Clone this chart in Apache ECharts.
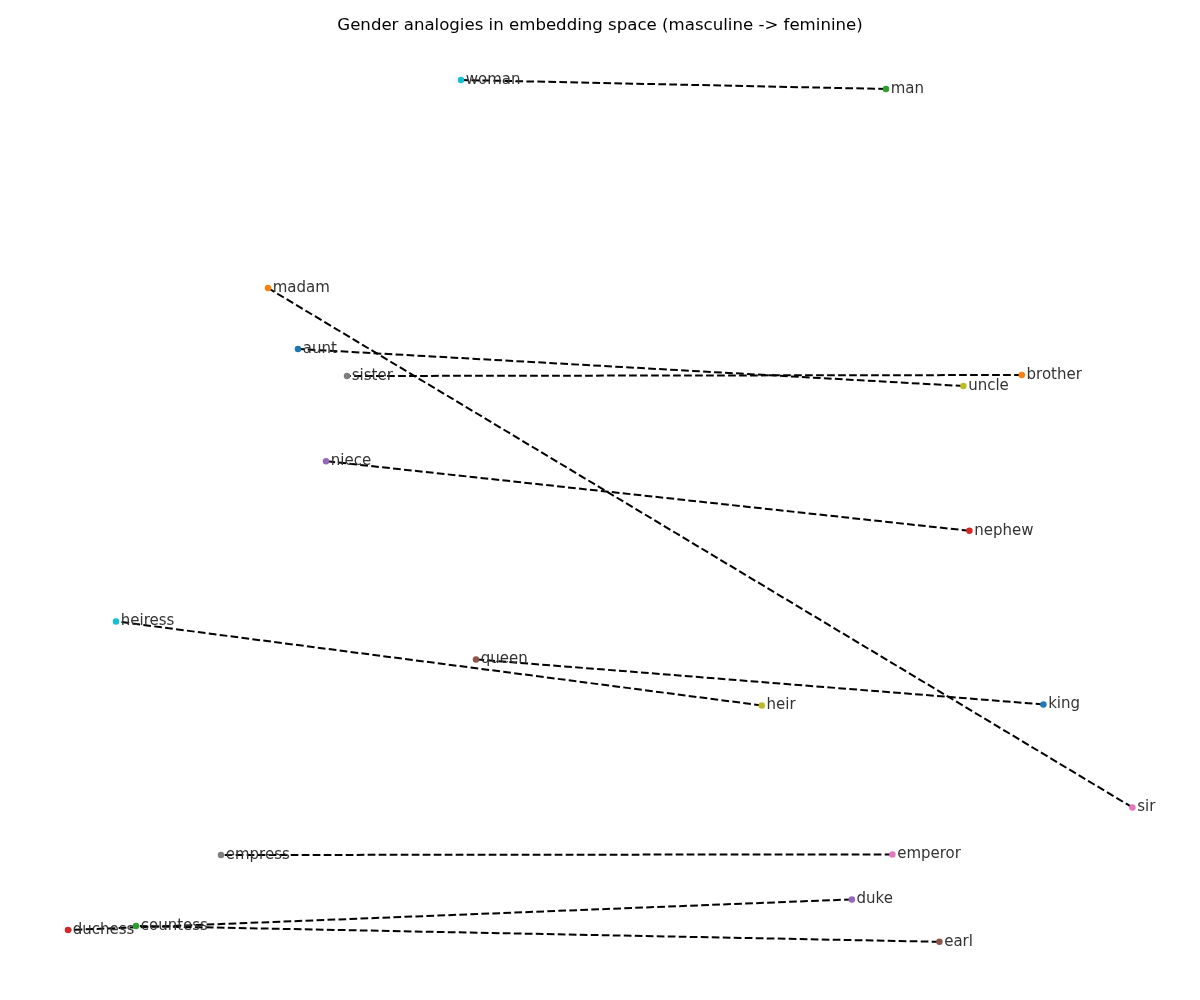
<!DOCTYPE html>
<html>
<head>
<meta charset="utf-8">
<script src="https://cdn.jsdelivr.net/npm/echarts@6/dist/echarts.min.js"></script>
<style>html,body{margin:0;padding:0;background:#fff}#c{width:1200px;height:1000px}</style>
</head>
<body>
<div id="c"></div>
<script>
// Words and their 2D embedding coordinates
const words = ['king','brother','man','nephew','niece','queen','emperor','sister','uncle','woman',
               'aunt','madam','countess','duchess','duke','earl','sir','empress','heir','heiress'];
const xs = [2.217, 2.109, 1.430, 1.847, -1.370, -0.620, 1.462, -1.265, 1.817, -0.695,
            -1.510, -1.660, -2.320, -2.660, 1.259, 1.697, 2.662, -1.895, 0.809, -2.420];
const ys = [-1.022, 0.625, 2.055, -0.154, 0.194, -0.797, -1.772, 0.620, 0.570, 2.100,
            0.755, 1.060, -2.130, -2.150, -1.997, -2.209, -1.537, -1.775, -1.027, -0.607];
// masculine -> feminine pairs
const pairs = [['king','queen'],['brother','sister'],['man','woman'],['nephew','niece'],
               ['duke','duchess'],['earl','countess'],['emperor','empress'],['uncle','aunt'],
               ['heir','heiress'],['sir','madam']];
const palette = ['#1f77b4','#ff7f0e','#2ca02c','#d62728','#9467bd','#8c564b','#e377c2','#7f7f7f','#bcbd22','#17becf'];

const idx = {};
words.forEach((w, i) => idx[w] = i);

const lineSeries = pairs.map(([a, b]) => ({
  type: 'line',
  symbol: 'none',
  silent: true,
  z: 3,
  lineStyle: { color: '#000', width: 2, type: [7.7, 3.3], opacity: 1 },
  data: [[xs[idx[a]], ys[idx[a]]], [xs[idx[b]], ys[idx[b]]]],
  animation: false
}));

const scatter = {
  type: 'scatter',
  symbolSize: 6.5,
  z: 4,
  data: words.map((w, i) => ({
    value: [xs[i], ys[i]],
    name: w,
    itemStyle: { color: palette[i % palette.length], opacity: 1 }
  })),
  label: {
    show: true,
    position: 'right',
    distance: 1.5,
    formatter: p => p.name,
    fontSize: 15,
    color: '#333',
    fontFamily: 'DejaVu Sans'
  },
  animation: false
};

const chart = echarts.init(document.getElementById('c'));
chart.setOption({
  backgroundColor: '#fff',
  title: {
    text: 'Gender analogies in embedding space (masculine -> feminine)',
    left: 'center',
    top: 12,
    textStyle: { fontSize: 16.6, fontWeight: 'normal', color: '#000', fontFamily: 'DejaVu Sans' }
  },
  grid: { left: 0, right: 0, top: 0, bottom: 0 },
  xAxis: { type: 'value', min: -3, max: 3, show: false },
  yAxis: { type: 'value', min: -2.5, max: 2.5, show: false },
  series: [...lineSeries, scatter]
});
</script>
</body>
</html>
